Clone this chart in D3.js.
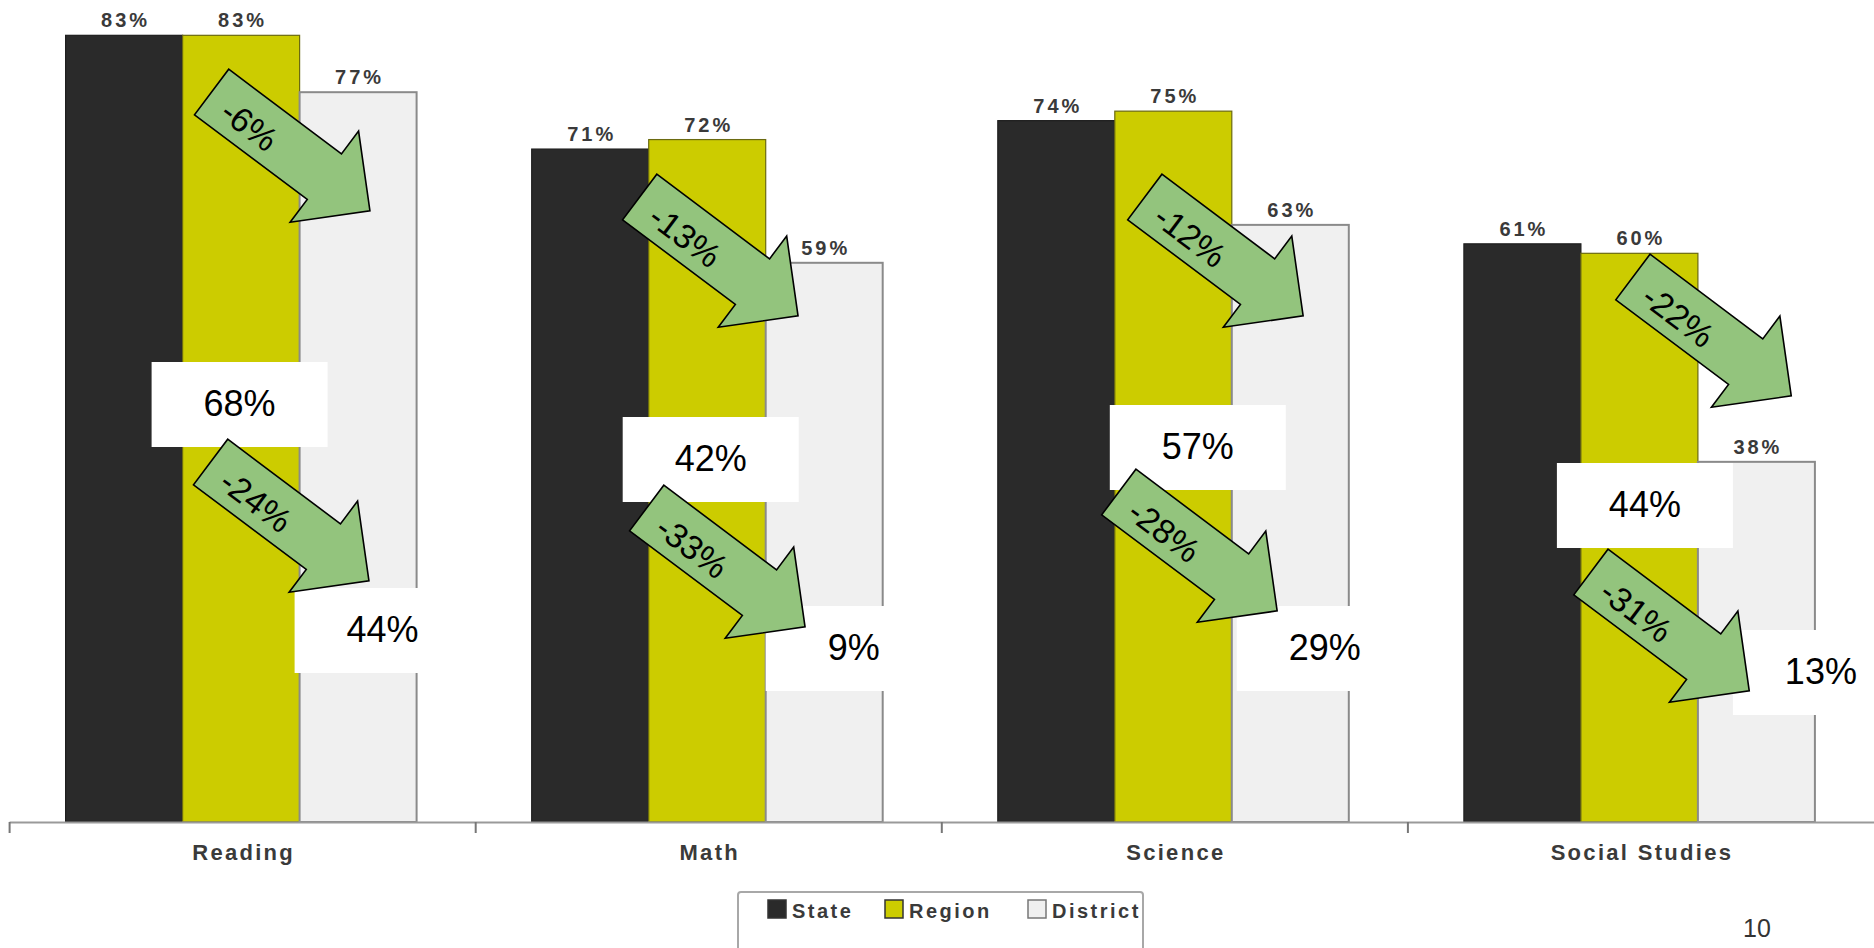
<!DOCTYPE html>
<html>
<head>
<meta charset="utf-8">
<script src="https://cdn.jsdelivr.net/npm/d3@7"></script>
<style>
  html, body { margin: 0; padding: 0; background: #ffffff; }
  svg { display: block; }
</style>
</head>
<body>
<svg id="chart" width="1874" height="948"></svg>
<script>
// ---------- data ----------
const categories = ["Reading", "Math", "Science", "Social Studies"];
const seriesNames = ["State", "Region", "District"];
const stateValues = [83, 71, 74, 61];
const regionValues = [83, 72, 75, 60];
const districtValues = [77, 59, 63, 38];
const upperChange = [-6, -13, -12, -22];   // arrow labels (upper arrows)
const midValues = [68, 42, 57, 44];        // white box labels (middle)
const lowerChange = [-24, -33, -28, -31];  // arrow labels (lower arrows)
const lowValues = [44, 9, 29, 13];         // white box labels (bottom)
const pageNumber = "10";

// ---------- layout (annotation placement, relative to each category band) ----------
const upperArrowPos = [[202, 92], [164, 197], [203, 197], [225, 277]];
const lowerArrowPos = [[201, 462], [171, 508], [177, 492], [183, 572]];
const midBoxPos = [[142, 362], [147, 417], [168, 405], [149, 463]];
const lowBoxPos = [[285, 588], [290, 606], [295, 606], [325, 630]];

const W = 1874, H = 948;
const FONT = "'Liberation Sans', Arial, Helvetica, sans-serif";
const colors = { State: "#2a2a2a", Region: "#cccc00", District: "#f0f0f0" };
const strokes = { State: "#1e1e1e", Region: "#6b6a10", District: "#8a8a8a" };

const svg = d3.select("#chart");

const x0 = d3.scaleBand().domain(categories).range([9.6, W]).paddingInner(0).paddingOuter(0);
const x1 = d3.scaleBand().domain(seriesNames).range([56, 407]).padding(0);
const y = d3.scaleLinear().domain([0, 100]).range([822, 822 - 947.8]);

const seriesValues = { State: stateValues, Region: regionValues, District: districtValues };
const barData = [];
categories.forEach((c, i) => {
  seriesNames.forEach(s => barData.push({ cat: c, series: s, value: seriesValues[s][i] }));
});

// bars
const gBars = svg.append("g");
gBars.selectAll("rect").data(barData).join("rect")
  .attr("x", d => x0(d.cat) + x1(d.series))
  .attr("y", d => y(d.value))
  .attr("width", x1.bandwidth())
  .attr("height", d => y(0) - y(d.value))
  .attr("fill", d => colors[d.series])
  .attr("stroke", d => strokes[d.series])
  .attr("stroke-width", d => d.series === "District" ? 2 : 1.2);

// value labels
gBars.selectAll("text").data(barData).join("text")
  .attr("x", d => x0(d.cat) + x1(d.series) + x1.bandwidth() / 2 + 1.5)
  .attr("y", d => y(d.value) - 8)
  .attr("text-anchor", "middle")
  .attr("font-family", FONT)
  .attr("font-weight", "bold")
  .attr("font-size", 20)
  .attr("letter-spacing", 3)
  .attr("fill", "#3a3a3a")
  .text(d => d.value + "%");

// x axis
const gAxis = svg.append("g");
gAxis.append("line")
  .attr("x1", x0.range()[0]).attr("x2", W)
  .attr("y1", y(0) + 0.5).attr("y2", y(0) + 0.5)
  .attr("stroke", "#9a9a9a").attr("stroke-width", 2);
gAxis.selectAll("line.tick").data(categories).join("line")
  .attr("class", "tick")
  .attr("x1", d => x0(d)).attr("x2", d => x0(d))
  .attr("y1", y(0)).attr("y2", y(0) + 11)
  .attr("stroke", "#777").attr("stroke-width", 2);
gAxis.selectAll("text").data(categories).join("text")
  .attr("x", d => x0(d) + x0.bandwidth() / 2 + 1)
  .attr("y", 860)
  .attr("text-anchor", "middle")
  .attr("font-family", FONT)
  .attr("font-weight", "bold")
  .attr("font-size", 22)
  .attr("letter-spacing", 2.3)
  .attr("fill", "#3a3a3a")
  .text(d => d);

// white annotation boxes
const boxW = 176, boxH = 85;
const boxData = [];
categories.forEach((c, i) => {
  boxData.push({ cat: c, pos: midBoxPos[i], value: midValues[i] });
  boxData.push({ cat: c, pos: lowBoxPos[i], value: lowValues[i] });
});
const gBoxes = svg.append("g");
const boxG = gBoxes.selectAll("g").data(boxData).join("g")
  .attr("transform", d => `translate(${x0(d.cat) + d.pos[0]},${d.pos[1]})`);
boxG.append("rect")
  .attr("width", boxW).attr("height", boxH).attr("fill", "#ffffff");
boxG.append("text")
  .attr("x", boxW / 2).attr("y", 54)
  .attr("text-anchor", "middle")
  .attr("font-family", FONT)
  .attr("font-size", 36)
  .attr("fill", "#000")
  .text(d => d.value + "%");

// arrows
const sw = 28.5, hw = 57, hb = 141, tip = 198;
const arrowPts = [[0, -sw], [hb, -sw], [hb, -hw], [tip, 0], [hb, hw], [hb, sw], [0, sw]];
const arrowPath = "M" + arrowPts.map(p => p.join(",")).join("L") + "Z";
const arrowData = [];
categories.forEach((c, i) => {
  arrowData.push({ cat: c, pos: upperArrowPos[i], value: upperChange[i] });
  arrowData.push({ cat: c, pos: lowerArrowPos[i], value: lowerChange[i] });
});
const gArrows = svg.append("g");
const arG = gArrows.selectAll("g").data(arrowData).join("g")
  .attr("transform", d => `translate(${x0(d.cat) + d.pos[0]},${d.pos[1]}) rotate(36.9)`);
arG.append("path")
  .attr("d", arrowPath)
  .attr("fill", "#93c47d")
  .attr("stroke", "#000")
  .attr("stroke-width", 1.6)
  .attr("stroke-linejoin", "miter");
arG.append("text")
  .attr("x", 20).attr("y", 4)
  .attr("dominant-baseline", "central")
  .attr("font-family", FONT)
  .attr("font-size", 34)
  .attr("fill", "#000")
  .text(d => d.value + "%");

// legend
const gLeg = svg.append("g");
gLeg.append("rect")
  .attr("x", 738).attr("y", 892).attr("width", 405).attr("height", 80)
  .attr("rx", 3)
  .attr("fill", "#fff").attr("stroke", "#a8a8a8").attr("stroke-width", 2);
const legendOffsets = [0, 117, 260];
const legItem = gLeg.selectAll("g").data(seriesNames).join("g")
  .attr("transform", (d, i) => `translate(${768 + legendOffsets[i]},900)`);
legItem.append("rect")
  .attr("width", 18).attr("height", 18)
  .attr("fill", d => colors[d])
  .attr("stroke", d => d === "District" ? "#777" : "#333")
  .attr("stroke-width", 1.5);
legItem.append("text")
  .attr("x", 24).attr("y", 18)
  .attr("font-family", FONT)
  .attr("font-weight", "bold")
  .attr("font-size", 20)
  .attr("letter-spacing", 2.5)
  .attr("fill", "#3a3a3a")
  .text(d => d);

// page number
svg.append("text")
  .attr("x", 1743).attr("y", 937)
  .attr("font-family", FONT)
  .attr("font-size", 25)
  .attr("fill", "#333")
  .text(pageNumber);
</script>
</body>
</html>
